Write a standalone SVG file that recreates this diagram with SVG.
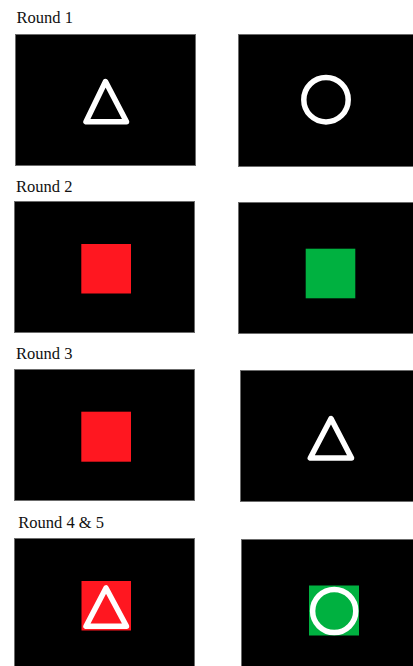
<svg xmlns="http://www.w3.org/2000/svg" width="413" height="666" viewBox="0 0 413 666">
<style>
.bg{fill:#ffffff}
.box{fill:#000000;stroke:#6b6b6b;stroke-width:1}
.lbl{font-family:"Liberation Serif","Times New Roman",serif;font-size:16.5px;fill:#111111}
.red{fill:#ff1720}
.green{fill:#00b140}
.wl{fill:none;stroke:#ffffff;stroke-width:5.5;stroke-linejoin:round}
</style>
<rect class="bg" x="0" y="0" width="413" height="666"/>
<g id="round1">
<text class="lbl" x="16.5" y="23">Round 1</text>
<g id="r1-left"><rect class="box" x="15.5" y="34.5" width="180" height="131"/><path class="wl" d="M105.5 81.5 L86 121.8 L126.5 121.8 Z"/></g>
<g id="r1-right"><rect class="box" x="238.5" y="34.5" width="180" height="132"/><circle class="wl" cx="326" cy="99.7" r="22.2"/></g>
</g>
<g id="round2">
<text class="lbl" x="16" y="192">Round 2</text>
<g id="r2-left"><rect class="box" x="14.5" y="201.5" width="180" height="131"/><rect class="red" x="81.3" y="244" width="49.7" height="49.5"/></g>
<g id="r2-right"><rect class="box" x="238.5" y="202.5" width="180" height="131"/><rect class="green" x="305.7" y="248.7" width="49.6" height="49.6"/></g>
</g>
<g id="round3">
<text class="lbl" x="16" y="358.5">Round 3</text>
<g id="r3-left"><rect class="box" x="14.5" y="369.5" width="180" height="131"/><rect class="red" x="81.3" y="411.7" width="49.7" height="50"/></g>
<g id="r3-right"><rect class="box" x="240.5" y="370.5" width="180" height="131"/><path class="wl" d="M331 418.5 L310.3 458 L351.5 458 Z"/></g>
</g>
<g id="round45">
<text class="lbl" x="18.3" y="528">Round 4 &amp; 5</text>
<g id="r45-left"><rect class="box" x="14.5" y="538.5" width="180" height="140"/><rect class="red" x="81.5" y="581" width="49.5" height="49.5"/><path class="wl" d="M106 588 L86 626.3 L126.5 626.3 Z"/></g>
<g id="r45-right"><rect class="box" x="241.5" y="539.5" width="180" height="140"/><rect class="green" x="309" y="585.5" width="50" height="50"/><circle class="wl" cx="334.2" cy="611" r="21.6"/></g>
</g>
</svg>
